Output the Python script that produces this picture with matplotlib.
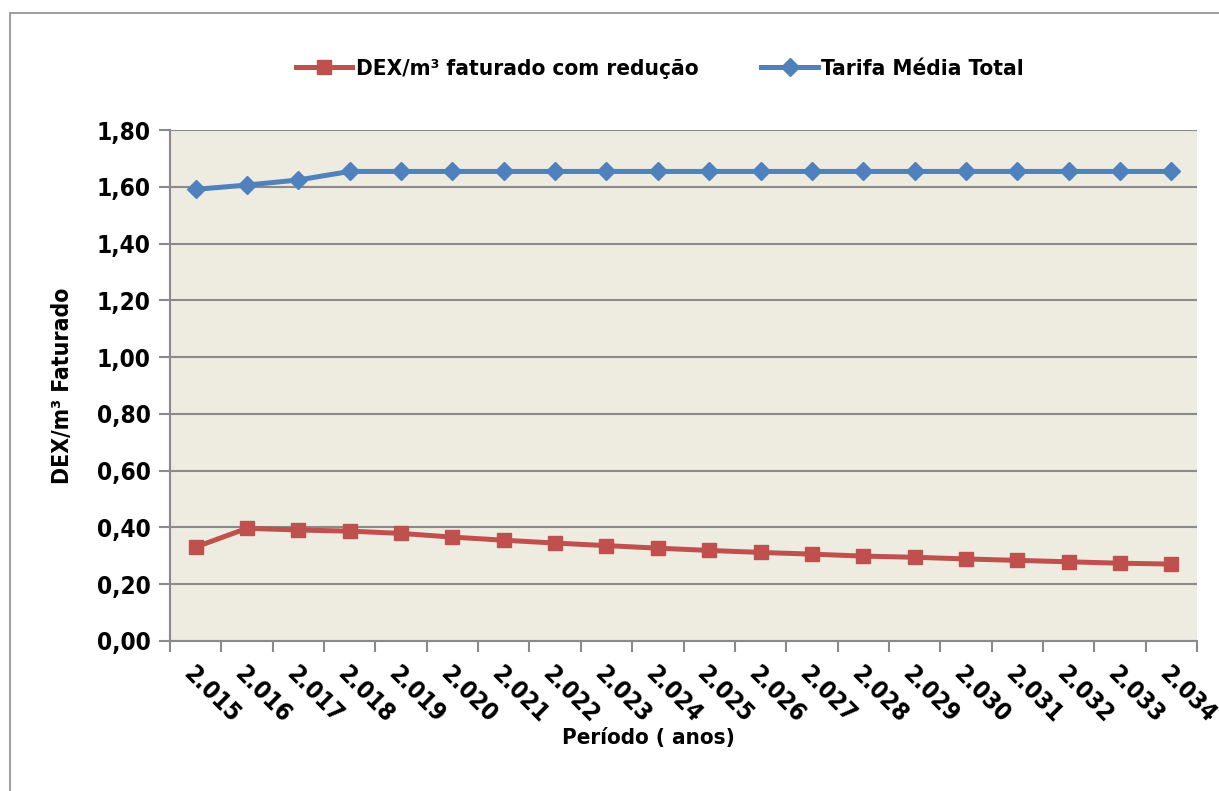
import matplotlib
matplotlib.use("Agg")
import matplotlib.pyplot as plt
from matplotlib import font_manager
from matplotlib.patches import Rectangle

names = {f.name for f in font_manager.fontManager.ttflist}
if "Liberation Sans Narrow" in names:
    plt.rcParams['font.family'] = ['Liberation Sans Narrow', 'DejaVu Sans']
else:
    plt.rcParams['font.family'] = ['DejaVu Sans']
    plt.rcParams['font.stretch'] = 'condensed'
plt.rcParams['font.weight'] = 'bold'
plt.rcParams['axes.labelweight'] = 'bold'

anos = ['2.015', '2.016', '2.017', '2.018', '2.019', '2.020', '2.021', '2.022', '2.023', '2.024',
        '2.025', '2.026', '2.027', '2.028', '2.029', '2.030', '2.031', '2.032', '2.033', '2.034']
dex_reducao = [0.331, 0.397, 0.391, 0.387, 0.379, 0.366, 0.355, 0.345, 0.336, 0.327,
               0.319, 0.312, 0.306, 0.299, 0.295, 0.289, 0.284, 0.279, 0.274, 0.271]
tarifa_media = [1.591, 1.606, 1.624, 1.654, 1.654, 1.654, 1.654, 1.654, 1.654, 1.654,
                1.654, 1.654, 1.654, 1.654, 1.654, 1.654, 1.654, 1.654, 1.654, 1.654]
yticks = [0.0, 0.2, 0.4, 0.6, 0.8, 1.0, 1.2, 1.4, 1.6, 1.8]

W, H = 1219, 791
fig = plt.figure(figsize=(W / 100, H / 100), dpi=100)
# moldura do grafico (corta na direita e embaixo, como no original)
fig.patches.append(Rectangle((10 / W, -0.2), 1.2, 1.2 - 13 / H, transform=fig.transFigure,
                             fill=False, edgecolor='#8c8c8c', linewidth=1.2))

ax = fig.add_axes([170 / W, 1 - 641 / H, (1197 - 170) / W, (641 - 130) / H])
ax.set_facecolor('#EEECE1')

x = list(range(len(anos)))
red, = ax.plot(x, dex_reducao, color='#C0504D', lw=3.6, marker='s', ms=10, mec='#C0504D',
               label='DEX/m³ faturado com redução')
blue, = ax.plot(x, tarifa_media, color='#4F81BD', lw=3.6, marker='D', ms=9, mec='#4F81BD',
                label='Tarifa Média Total')

ax.set_xlim(-0.5, len(anos) - 0.5)
ax.set_ylim(0, 1.8)
ax.set_yticks(yticks)
ax.set_yticklabels([f'{v:.2f}'.replace('.', ',') for v in yticks], fontsize=17.5)
ax.yaxis.grid(True, color='#8a8a8a', lw=1.5)
ax.set_axisbelow(True)

ax.set_xticks([i - 0.5 for i in range(len(anos) + 1)])
ax.set_xticklabels([])
ax.set_xticks(x, minor=True)
ax.set_xticklabels(anos, minor=True, rotation=-45, ha='left', va='top',
                   rotation_mode='anchor', fontsize=17.5)
ax.tick_params(axis='x', which='minor', length=0, pad=15)
ax.tick_params(axis='x', which='major', length=8, width=1.5, color='#8a8a8a')
ax.tick_params(axis='y', length=8, width=1.5, color='#8a8a8a', pad=6)

for s in ['top', 'right']:
    ax.spines[s].set_visible(False)
for s in ['left', 'bottom']:
    ax.spines[s].set_color('#8a8a8a')
    ax.spines[s].set_linewidth(1.5)

ax.set_ylabel('DEX/m³ Faturado', fontsize=16.5, labelpad=16)
fig.text(648 / W, 1 - 738 / H, 'Período ( anos)', fontsize=16, ha='center', va='center')

fig.legend(handles=[red, blue], loc='center', bbox_to_anchor=(660 / W, 1 - 69 / H), ncol=2,
           frameon=False, fontsize=16.2, handlelength=2.5, columnspacing=2.8, handletextpad=0.15)

fig.savefig('out.png', dpi=100)
